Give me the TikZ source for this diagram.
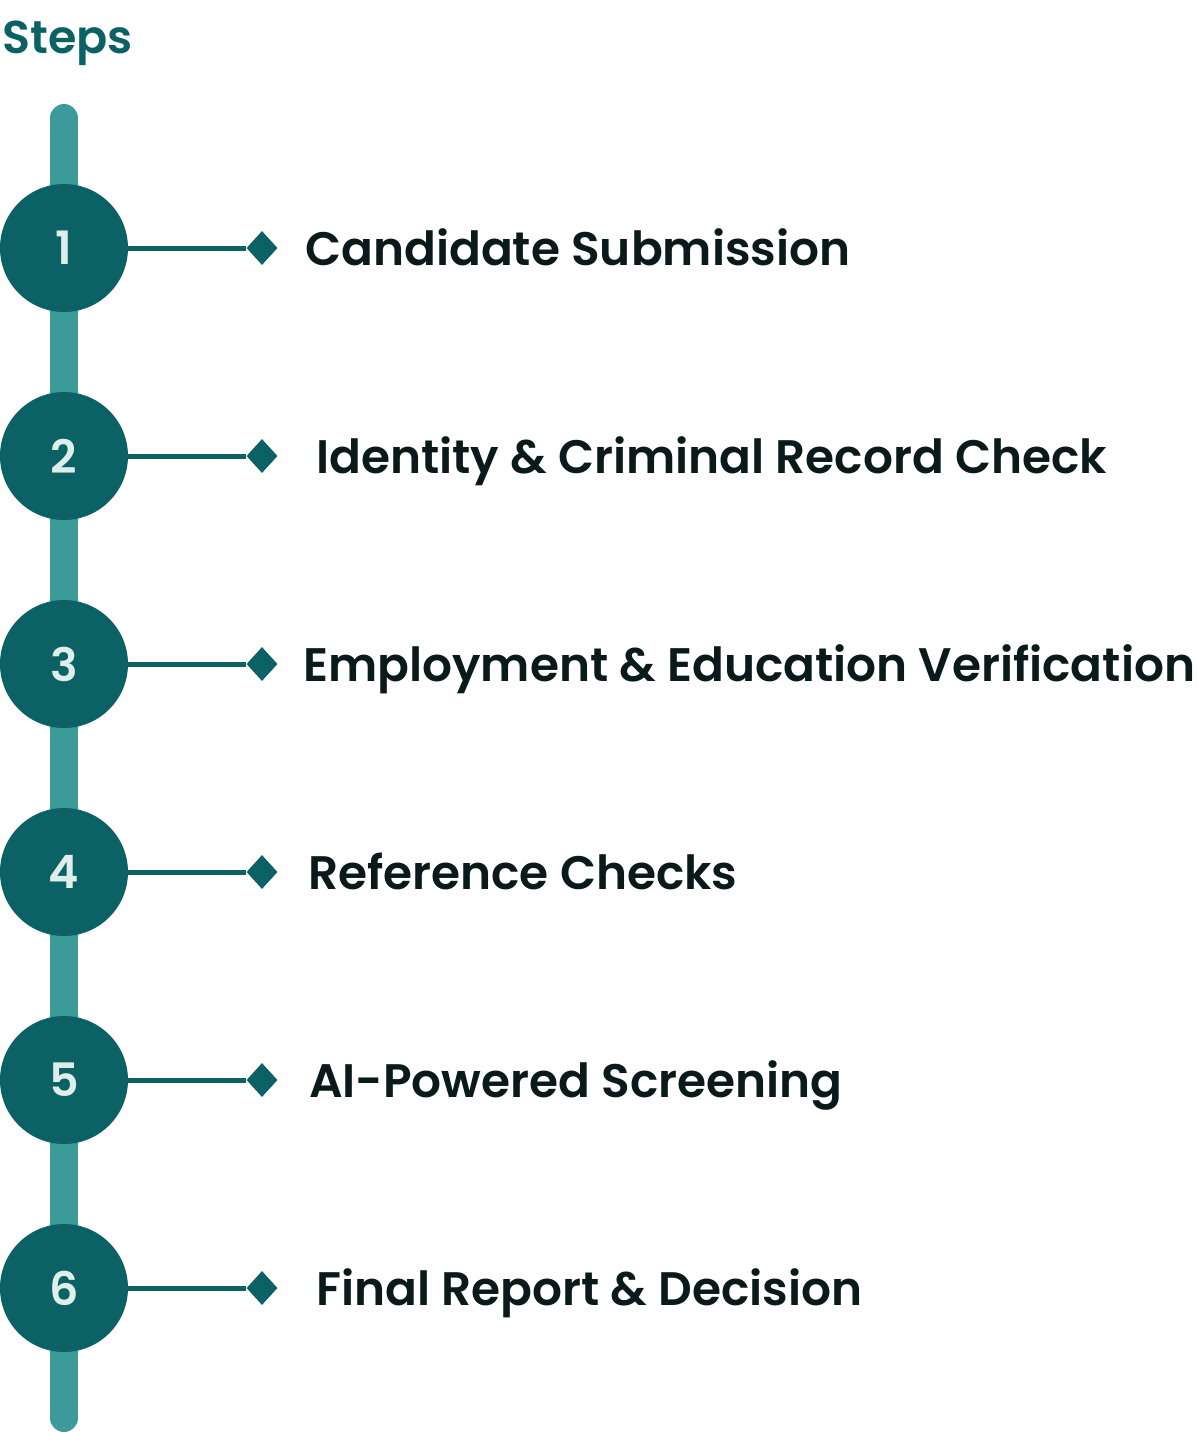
\documentclass[tikz,border=0pt]{standalone}
\usepackage{fontspec}
\setmainfont{Poppins}[BoldFont={* SemiBold}]
\usetikzlibrary{shapes.geometric}
\definecolor{stepdark}{HTML}{0B6163}
\definecolor{steprail}{HTML}{3D9A9B}
\definecolor{steptext}{HTML}{0A1A1A}
\definecolor{stepnum}{HTML}{DDEEEC}
\tikzset{
  stepcircle/.style={circle, fill=stepdark, minimum size=128pt, inner sep=0pt,
    text=stepnum, font=\fontsize{46}{46}\selectfont\bfseries},
  stepmark/.style={diamond, fill=stepdark, minimum width=31pt, minimum height=34pt, inner sep=0pt},
  steplabel/.style={anchor=base west, inner sep=0pt, text=steptext,
    font=\fontsize{47}{47}\selectfont\bfseries},
  steplink/.style={draw=stepdark, line width=5pt}
}
\begin{document}
\begin{tikzpicture}[x=1pt, y=-1pt]
	\useasboundingbox (0,0) rectangle (1197,1432);

	% title
	\node[anchor=base west, inner sep=0pt, text=stepdark, font=\fontsize{46}{46}\selectfont\bfseries] (title) at (2,53) {Steps};

	% rail
	\coordinate (railtop) at (64,118);
	\coordinate (railbot) at (64,1418);
	\draw [steprail, line width=28pt, line cap=round] (railtop) -- (railbot);

	% circles
	\node[stepcircle] (c1) at (64,248) {1};
	\node[stepcircle] (c2) at (64,456) {2};
	\node[stepcircle] (c3) at (64,664) {3};
	\node[stepcircle] (c4) at (64,872) {4};
	\node[stepcircle] (c5) at (64,1080) {5};
	\node[stepcircle] (c6) at (64,1288) {6};

	% diamonds
	\node[stepmark] (d1) at (262,248) {};
	\node[stepmark] (d2) at (262,456) {};
	\node[stepmark] (d3) at (262,664) {};
	\node[stepmark] (d4) at (262,872) {};
	\node[stepmark] (d5) at (262,1080) {};
	\node[stepmark] (d6) at (262,1288) {};

	\draw [steplink] (c1) -- (d1);
	\draw [steplink] (c2) -- (d2);
	\draw [steplink] (c3) -- (d3);
	\draw [steplink] (c4) -- (d4);
	\draw [steplink] (c5) -- (d5);
	\draw [steplink] (c6) -- (d6);

	% labels
	\node[steplabel] (t1) at (305,265) {Candidate Submission};
	\node[steplabel] (t2) at (316,473) {Identity \& Criminal Record Check};
	\node[steplabel] (t3) at (303,681) {Employment \& Education Verification};
	\node[steplabel] (t4) at (308,889) {Reference Checks};
	\node[steplabel] (t5) at (309,1097) {AI-Powered Screening};
	\node[steplabel] (t6) at (316,1305) {Final Report \& Decision};
\end{tikzpicture}
\end{document}
